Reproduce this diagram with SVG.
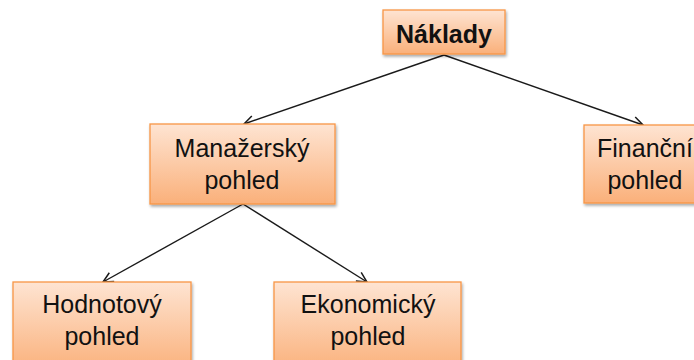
<svg xmlns="http://www.w3.org/2000/svg" width="694" height="360" viewBox="0 0 694 360">
<defs>
<linearGradient id="g" x1="0" y1="0" x2="0" y2="1">
<stop offset="0" stop-color="#fee4d2"/>
<stop offset="1" stop-color="#fab07a"/>
</linearGradient>
<filter id="sh" x="-10%" y="-10%" width="130%" height="140%">
<feGaussianBlur in="SourceAlpha" stdDeviation="1.5"/>
<feOffset dx="1" dy="2" result="b"/>
<feComponentTransfer><feFuncA type="linear" slope="0.35"/></feComponentTransfer>
<feMerge><feMergeNode/><feMergeNode in="SourceGraphic"/></feMerge>
</filter>
<marker id="arr" viewBox="0 0 12 12" refX="11" refY="6" markerWidth="12" markerHeight="12" markerUnits="userSpaceOnUse" orient="auto">
<path d="M1,1 L11,6 L1,11" fill="none" stroke="#1a1a1a" stroke-width="1.5"/>
</marker>
</defs>
<style>
.box{fill:url(#g);stroke:#f79646;stroke-width:1.3;filter:url(#sh)}
.t{font-family:"Liberation Sans",Arial,sans-serif;font-size:25px;fill:#111;text-anchor:middle}
.b{font-weight:bold}
.c{fill:none;stroke:#1a1a1a;stroke-width:1.4;marker-end:url(#arr)}
</style>
<rect width="694" height="360" fill="#fff"/>
<g id="connectors">
<line class="c" x1="444" y1="55" x2="244" y2="124"/>
<line class="c" x1="444" y1="55" x2="643" y2="125"/>
<line class="c" x1="243" y1="204" x2="103" y2="282"/>
<line class="c" x1="243" y1="204" x2="367" y2="282"/>
</g>
<g id="naklady">
<rect class="box" x="383" y="10" width="122" height="44"/>
<text class="t b" x="444" y="43">Náklady</text>
</g>
<g id="manazersky">
<rect class="box" x="150" y="124" width="185" height="80"/>
<text class="t" x="242" y="157">Manažerský</text>
<text class="t" x="242" y="189">pohled</text>
</g>
<g id="financni">
<rect class="box" x="584" y="125" width="124" height="78"/>
<text class="t" x="645" y="157">Finanční</text>
<text class="t" x="645" y="189">pohled</text>
</g>
<g id="hodnotovy">
<rect class="box" x="13" y="282" width="178" height="90"/>
<text class="t" x="102" y="313">Hodnotový</text>
<text class="t" x="102" y="345">pohled</text>
</g>
<g id="ekonomicky">
<rect class="box" x="274" y="282" width="187" height="90"/>
<text class="t" x="368" y="313">Ekonomický</text>
<text class="t" x="368" y="345">pohled</text>
</g>
</svg>
